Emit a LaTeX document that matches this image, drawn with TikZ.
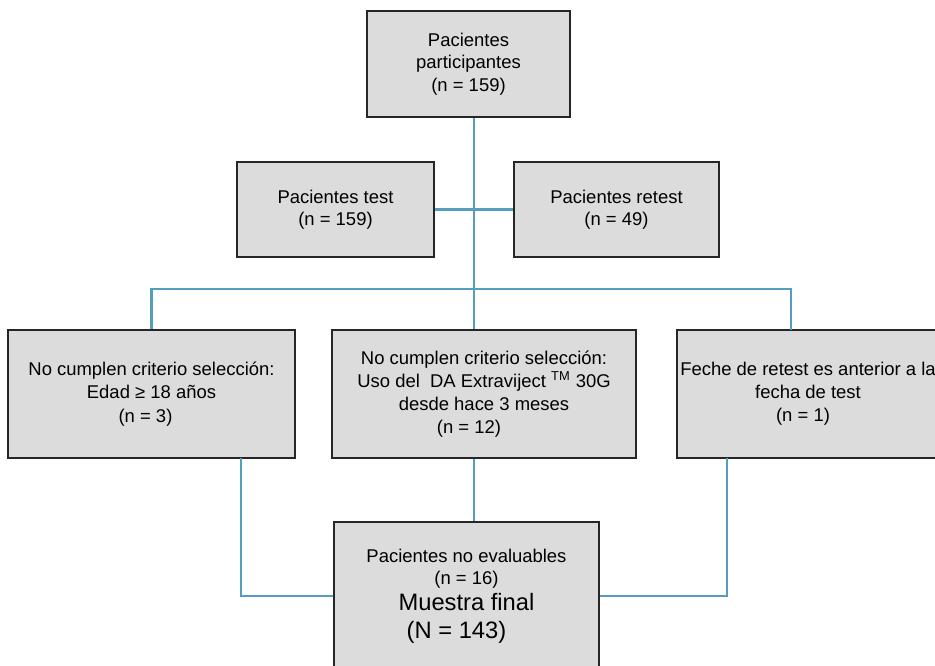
\documentclass[tikz,border=0pt]{standalone}
\usepackage{fontspec}
\setmainfont{Liberation Sans}
\definecolor{cajagris}{RGB}{220,220,220}
\definecolor{lineaazul}{RGB}{86,158,190}
\begin{document}
\begin{tikzpicture}[
	caja/.style={draw=black!85, line width=1pt, fill=cajagris, align=center, inner sep=0pt,
		font=\fontsize{10.5}{12.8}\selectfont},
	enlace/.style={draw=lineaazul, line width=1.2pt}]
	\useasboundingbox (0,0) rectangle (18.7,-13.32);
	
	\node[caja, minimum width=4.06cm, minimum height=2.12cm] (total) at (9.37,-1.28) {Pacientes\\participantes\\(n = 159)};
	
	\node[caja, minimum width=3.94cm, minimum height=1.90cm] (test) at (6.71,-4.19) {Pacientes test\\(n = 159)};
	\node[caja, minimum width=4.10cm, minimum height=1.90cm] (retest) at (12.33,-4.19) {Pacientes retest\\(n = 49)};
	
	\node[caja, minimum width=5.74cm, minimum height=2.56cm, font=\fontsize{10.5}{13.2}\selectfont] (edad) at (3.03,-7.88) {No cumplen criterio selección:\\Edad ≥ 18 años\\(n = 3)\hspace*{0.24cm}};
	\node[caja, minimum width=6.08cm, minimum height=2.56cm, font=\fontsize{10.5}{13.2}\selectfont] (uso) at (9.68,-7.88) {No cumplen criterio selección:\\Uso del~ DA Extraviject \textsuperscript{TM} 30G\\desde hace 3 meses\\(n = 12)\hspace*{0.6cm}};
	\node[caja, minimum width=5.24cm, minimum height=2.56cm, font=\fontsize{10.5}{13.2}\selectfont] (fecha) at (16.16,-7.88) {Feche de retest es anterior a la\\fecha de test\\(n = 1)\hspace*{0.2cm}};
	
	\node[caja, minimum width=5.30cm, minimum height=2.96cm] (final) at (9.33,-11.92) {Pacientes no evaluables\\(n = 16)\\[2pt]{\fontsize{13.5}{16.5}\selectfont Muestra final}\\[3pt]{\fontsize{13.5}{16.5}\selectfont (N = 143)\hspace*{0.4cm}}};
	
	\coordinate (reparto) at (9.48,-5.78);
	\coordinate (fechain) at (15.82,-6.60);
	\coordinate (edadout) at (4.82,-9.16);
	\coordinate (fechaout) at (14.54,-9.16);
	
	\draw[enlace] (total.south -| reparto) -- (reparto) -- (uso.north -| reparto);
	\draw[enlace] (test) -- (retest);
	\draw[enlace] (edad.north) |- (reparto) -| (fechain);
	\draw[enlace] (uso.south -| reparto) -- (final.north -| reparto);
	\draw[enlace] (edadout) |- (final.west);
	\draw[enlace] (fechaout) |- (final.east);
\end{tikzpicture}
\end{document}
